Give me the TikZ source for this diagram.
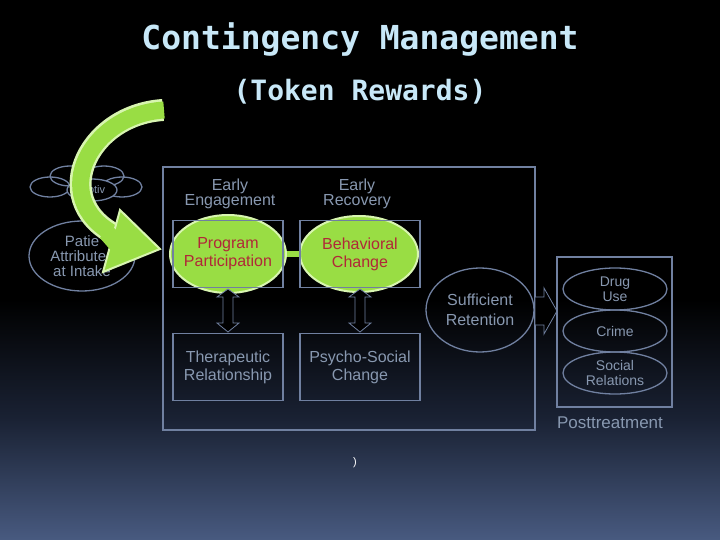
\documentclass[tikz,border=0pt]{standalone}
\usepackage{fontspec}
\setmainfont{Liberation Sans}
\newfontfamily\titlefont{DejaVu Sans Mono}
\usetikzlibrary{shapes.geometric,arrows.meta}
\definecolor{ln}{HTML}{7080A0}
\definecolor{tx}{HTML}{8898B0}
\definecolor{gr}{HTML}{99DD44}
\definecolor{grl}{HTML}{D8F5B0}
\definecolor{rd}{HTML}{B02838}
\definecolor{ttl}{HTML}{C8E8F8}
\definecolor{mid}{HTML}{1A2234}
\definecolor{bot}{HTML}{485A80}
\tikzset{
 boxr/.style={draw=ln,line width=1.3pt,minimum width=#1,minimum height=67pt,text=tx,font=\fontsize{16}{18}\selectfont,align=center},
 ell/.style={ellipse,draw=ln,line width=1.3pt,text=tx,align=center,inner sep=0pt},
 gell/.style={ellipse,fill=gr,draw=grl,line width=2pt,minimum width=116pt,minimum height=78pt},
 lbl/.style={text=tx,align=center,font=\fontsize{16}{14}\selectfont},
 hollow/.style={draw=ln,fill=black,line width=0.8pt}
}
\begin{document}
\begin{tikzpicture}[x=1pt,y=-1pt]
\useasboundingbox (0,0) rectangle (720,540);
\fill[black] (0,0) rectangle (720,300);
\shade[top color=black,bottom color=mid] (0,299.5) rectangle (720,420);
\shade[top color=mid,bottom color=bot] (0,419.5) rectangle (720,540);
\node[text=ttl,font=\titlefont\bfseries\fontsize{33}{36}\selectfont] (t1) at (360,40) {Contingency Management};
\node[text=ttl,font=\titlefont\bfseries\fontsize{28}{31}\selectfont] (t2) at (360,92) {(Token Rewards)};
% left side ellipses
\node[ell,minimum width=40pt,minimum height=20pt] (e1) at (50,187) {};
\node[ell,minimum width=40pt,minimum height=20pt] (e2) at (70,176) {};
\node[ell,minimum width=40pt,minimum height=20pt] (e3) at (104,176) {};
\node[ell,minimum width=40pt,minimum height=20pt] (e4) at (122,187) {};
\node[ell,fill=black,minimum width=50pt,minimum height=22pt,font=\fontsize{11}{12}\selectfont] (mot) at (92,190) {Motiv};
\node[ell,minimum width=106pt,minimum height=70pt,font=\fontsize{15}{15}\selectfont] (pat) at (82,256) {Patie\\Attributes\\at Intake};
% main box
\node[draw=ln,line width=1.3pt,minimum width=372pt,minimum height=263pt] (main) at (349,298.5) {};
\node[lbl] (ee) at (230,194) {Early\\Engagement};
\node[lbl] (er) at (357,194) {Early\\Recovery};
\draw[gr,line width=6pt] (280,254) -- (306,254);
\node[gell] (pp) at (228,254) {};
\node[gell,minimum width=118pt,minimum height=76pt] (bc) at (359,254) {};
\node[boxr=110pt,text=rd] (ppb) at (228,254) {Program\\Participation};
\node[boxr=120pt,text=rd] (bcb) at (360,254) {Behavioral\\Change};
\node[boxr=110pt] (tr) at (228,367) {Therapeutic\\Relationship};
\node[boxr=120pt] (ps) at (360,367) {Psycho-Social\\Change};
% double arrows
\foreach \xx/\a/\b in {228/ppb/tr,360/bcb/ps}{
 \draw[hollow] (\xx,289) -- (\xx+11,297) -- (\xx+5,297) -- (\xx+5,323) -- (\xx+11,323) -- (\xx,332) -- (\xx-11,323) -- (\xx-5,323) -- (\xx-5,297) -- (\xx-11,297) -- cycle;
}
\node[ell,minimum width=108pt,minimum height=84pt,font=\fontsize{16}{20}\selectfont] (sr) at (480,310) {Sufficient\\Retention};
\draw[hollow] (535,297) -- (544,297) -- (544,288) -- (557,311) -- (544,334) -- (544,325) -- (535,325) -- cycle;
\node[draw=ln,line width=1.3pt,minimum width=115pt,minimum height=150pt] (pt) at (614.5,332) {};
\node[ell,minimum width=104pt,minimum height=42pt,font=\fontsize{14}{15}\selectfont] (du) at (615,289) {Drug\\Use};
\node[ell,minimum width=104pt,minimum height=42pt,font=\fontsize{14}{15}\selectfont] (cr) at (615,331) {Crime};
\node[ell,minimum width=104pt,minimum height=42pt,font=\fontsize{14}{15}\selectfont] (so) at (615,373) {Social\\Relations};
\node[lbl,font=\fontsize{17}{18}\selectfont] (post) at (610,423) {Posttreatment};
\node[text=white,font=\fontsize{11}{12}\selectfont] (par) at (355,463) {)};
% green curved arrow
\draw[grl,line width=22pt] (163,110) .. controls (85,115) and (45,205) .. (122,238);
\draw[gr,line width=17pt] (164,110) .. controls (85,115) and (45,205) .. (122,238);
\fill[gr,draw=grl,line width=2pt] (120,210) -- (160,249) -- (103,272) -- cycle;
\fill[gr] (108,222) -- (124,238) -- (114,254) -- (100,238) -- cycle;
\coordinate (gtip) at (160,249);
\end{tikzpicture}
\end{document}
